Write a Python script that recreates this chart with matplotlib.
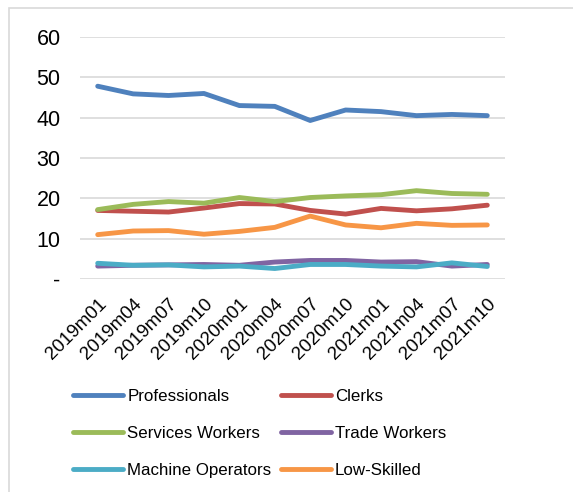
import matplotlib
matplotlib.use("Agg")
import matplotlib.pyplot as plt
from matplotlib.patches import Rectangle

plt.rcParams['font.family'] = ['Liberation Sans', 'DejaVu Sans']

periods = ["2019m01", "2019m04", "2019m07", "2019m10", "2020m01", "2020m04",
           "2020m07", "2020m10", "2021m01", "2021m04", "2021m07", "2021m10"]
professionals = [47.8, 45.9, 45.5, 46.0, 43.0, 42.8, 39.3, 41.9, 41.5, 40.5, 40.8, 40.5]
clerks = [17.0, 16.8, 16.6, 17.6, 18.7, 18.6, 17.0, 16.1, 17.5, 16.9, 17.4, 18.3]
services_workers = [17.2, 18.5, 19.2, 18.8, 20.2, 19.2, 20.2, 20.6, 20.9, 21.9, 21.2, 21.0]
trade_workers = [3.2, 3.4, 3.5, 3.6, 3.4, 4.2, 4.6, 4.6, 4.2, 4.3, 3.2, 3.6]
machine_operators = [3.9, 3.4, 3.5, 3.0, 3.2, 2.6, 3.6, 3.6, 3.2, 3.0, 4.0, 3.1]
low_skilled = [11.0, 11.9, 12.0, 11.1, 11.8, 12.8, 15.6, 13.4, 12.7, 13.8, 13.3, 13.4]

series = [
    ("Professionals", professionals, "#4F81BD"),
    ("Clerks", clerks, "#C0504D"),
    ("Services Workers", services_workers, "#9BBB59"),
    ("Trade Workers", trade_workers, "#8064A2"),
    ("Machine Operators", machine_operators, "#4BACC6"),
    ("Low-Skilled", low_skilled, "#F79646"),
]
yticks = [0, 10, 20, 30, 40, 50, 60]
yticklabels = ["-", "10", "20", "30", "40", "50", "60"]

W, H = 573, 492
fig = plt.figure(figsize=(W / 100, H / 100), dpi=100)
fig.patches.append(Rectangle((9 / W, -0.1), 1.2, 1 - 8 / H + 0.1, transform=fig.transFigure,
                             fill=False, edgecolor="#D9D9D9", linewidth=1.2))

ax = fig.add_axes([80 / W, 1 - 279 / H, 425 / W, 242 / H])
x = list(range(len(periods)))
handles = []
for name, vals, col in series:
    ln, = ax.plot(x, vals, color=col, linewidth=3.5, solid_capstyle="round",
                  solid_joinstyle="round", label=name)
    handles.append(ln)

ax.set_xlim(-0.5, len(periods) - 0.5)
ax.set_ylim(0, 60)
ax.set_yticks(yticks)
ax.set_yticklabels(yticklabels, fontsize=15.5)
ax.set_xticks(x)
ax.set_xticklabels(periods, rotation=45, ha="right", rotation_mode="anchor", fontsize=13.5)
ax.tick_params(axis="both", length=0)
ax.tick_params(axis="y", pad=14)
ax.tick_params(axis="x", pad=12)
ax.grid(axis="y", color="#D9D9D9", linewidth=1.2)
ax.set_axisbelow(True)
for s in ax.spines.values():
    s.set_visible(False)

# legend is filled row by row in the reference
order = [0, 2, 4, 1, 3, 5]
leg = fig.legend([handles[i] for i in order], [series[i][0] for i in order],
                 loc="upper left", bbox_to_anchor=(73 / W, 1 - 389 / H), ncol=2,
                 frameon=False, fontsize=12.2, handlelength=2.95, handletextpad=0.25,
                 columnspacing=0.55, labelspacing=1.3, borderpad=0, borderaxespad=0)
for h in leg.get_lines():
    h.set_linewidth(3.5)
    h.set_solid_capstyle("round")

fig.savefig("out.png", dpi=100)
